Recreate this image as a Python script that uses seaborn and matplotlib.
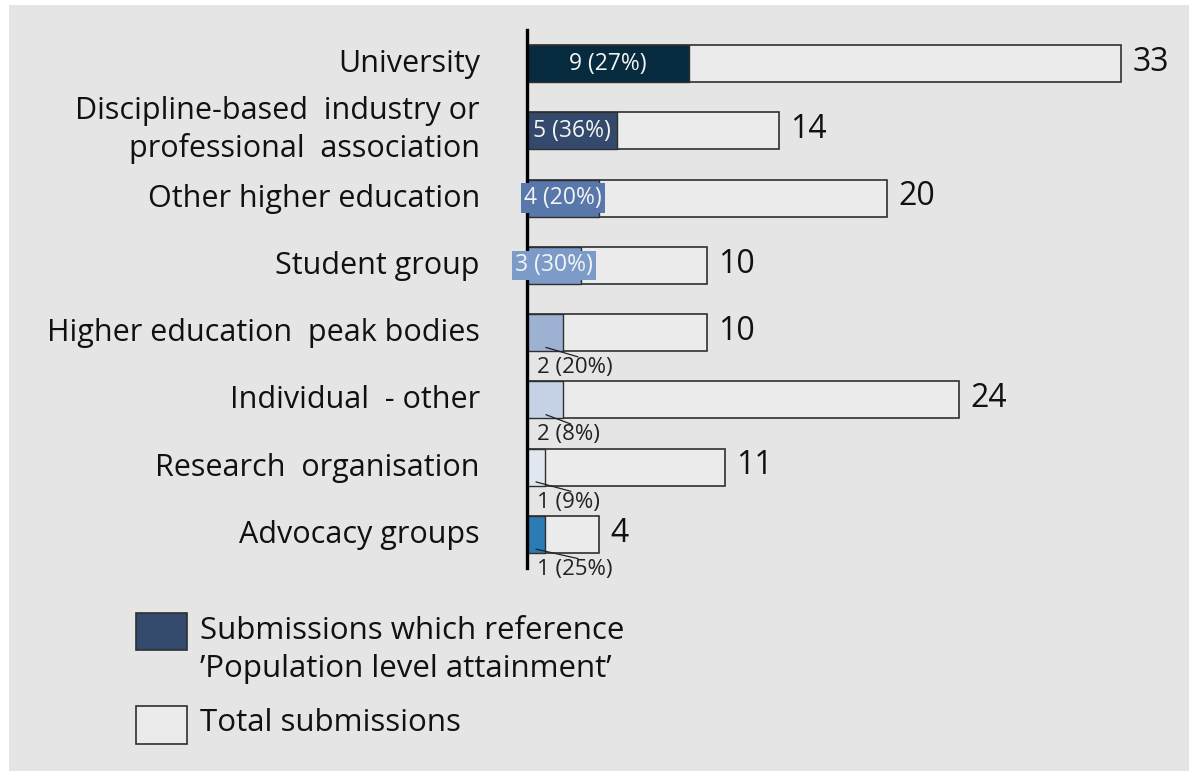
import matplotlib
matplotlib.use("Agg")
import matplotlib.pyplot as plt
import matplotlib.transforms as mtransforms
from matplotlib.patches import Rectangle
import seaborn as sns
import pandas as pd

categories = [
    "University",
    "Discipline-based  industry or\nprofessional  association",
    "Other higher education",
    "Student group",
    "Higher education  peak bodies",
    "Individual  - other",
    "Research  organisation",
    "Advocacy groups",
]
total_submissions = [33, 14, 20, 10, 10, 24, 11, 4]
population_refs = [9, 5, 4, 3, 2, 2, 1, 1]
ref_colors = ["#062a3e", "#344a6c", "#5877aa", "#7c9bc9", "#9db1d2",
              "#c5d2e6", "#e1e7f1", "#2b7bb5"]
label_inside = [True, True, True, True, False, False, False, False]
label_boxed = [False, False, True, True, False, False, False, False]
leader_start = [0, 0, 0, 0, 1.05, 1.05, 0.5, 0.5]
leader_end = [0, 0, 0, 0, 2.83, 2.44, 2.44, 2.83]

df = pd.DataFrame({
    "category": categories,
    "total": total_submissions,
    "refs": population_refs,
})

W, H = 1189, 771
sns.set_theme(style="white")
plt.rcParams["font.family"] = ["Open Sans", "DejaVu Sans"]
BG = "#e5e5e5"
TXT = "#111111"

fig = plt.figure(figsize=(W / 100, H / 100), dpi=100, facecolor="white")
# gray panel behind everything
fig.add_artist(Rectangle((9 / W, 0), 1 - 9 / W, 1 - 5 / H,
                         transform=fig.transFigure, facecolor=BG,
                         edgecolor="none", zorder=0))

# axes in pixel terms: x=0 at 527px, 18px per unit; top 30px, bottom 568px
x0, x1 = 527, 1189
ytop, ybot = 30, 568
ax = fig.add_axes([x0 / W, 1 - ybot / H, (x1 - x0) / W, (ybot - ytop) / H])
ax.set_facecolor("none")
px_per_unit = 18.0
ax.set_xlim(0, (x1 - x0) / px_per_unit)
row = 66.8
first = 60.5
ax.set_ylim(7 + (ybot - first - 7 * row) / row, -(first - ytop) / row)

sns.barplot(data=df, x="total", y="category", orient="h", color="#ebebeb",
            edgecolor="#2f2f2f", linewidth=1.2, width=0.55, ax=ax,
            saturation=1, zorder=2)
sns.barplot(data=df, x="refs", y="category", orient="h", hue="category",
            palette=ref_colors, edgecolor="#2f2f2f", linewidth=1.0,
            width=0.55, ax=ax, saturation=1, legend=False, zorder=3)

for i, (tot, ref) in enumerate(zip(total_submissions, population_refs)):
    ax.text(tot + 0.62, i - 0.02, str(tot), va="center", ha="left",
            fontsize=23, color=TXT, zorder=8)
    pct = round(100 * ref / tot)
    lab = f"{ref} ({pct}%)"
    if label_inside[i]:
        kw = {}
        if label_boxed[i]:
            kw["bbox"] = dict(boxstyle="square,pad=0.12",
                              facecolor=ref_colors[i], edgecolor="none")
        ax.text(ref / 2, i + 0.0, lab, va="center", ha="center",
                fontsize=16.5, color="#f4f4f4", zorder=8, **kw)
    else:
        ax.text(0.55, i + 0.52, lab, va="center", ha="left",
                fontsize=16, color="#222222", zorder=8)
        ax.plot([leader_start[i], leader_end[i]], [i + 0.22, i + 0.36],
                color="#222222", lw=0.9, zorder=8, clip_on=False)

ax.set_xlabel("")
ax.set_ylabel("")
ax.set_xticks([])
ax.tick_params(axis="y", length=0, pad=34)
ax.set_yticks(range(len(categories)))
ax.set_yticklabels(categories, fontsize=22, color=TXT, linespacing=1.28)
# nudge category labels up a little (more for the two-line one)
for lbl in ax.get_yticklabels():
    dy = 0.08 if "\n" in lbl.get_text() else 0.03
    lbl.set_transform(lbl.get_transform() +
                      mtransforms.ScaledTranslation(0, dy, fig.dpi_scale_trans))
for s in ["top", "right", "bottom"]:
    ax.spines[s].set_visible(False)
ax.spines["left"].set_color("black")
ax.spines["left"].set_linewidth(2.4)
ax.spines["left"].set_zorder(7)


def fig_rect(px, py, pw, ph, fc):
    fig.add_artist(Rectangle((px / W, 1 - (py + ph) / H), pw / W, ph / H,
                             transform=fig.transFigure, facecolor=fc,
                             edgecolor="#2f2f2f", linewidth=1.2, zorder=3))


# legend
fig_rect(136, 613, 51, 37, "#344a6c")
fig_rect(136, 706, 51, 38, "#ebebeb")
fig.text(200 / W, 1 - 650 / H,
         "Submissions which reference\n\u2019Population level attainment\u2019",
         fontsize=22.5, color=TXT, va="center", ha="left", linespacing=1.32)
fig.text(200 / W, 1 - 723 / H, "Total submissions", fontsize=22.5,
         color=TXT, va="center", ha="left")

fig.savefig("out.png", dpi=100, facecolor="white")
